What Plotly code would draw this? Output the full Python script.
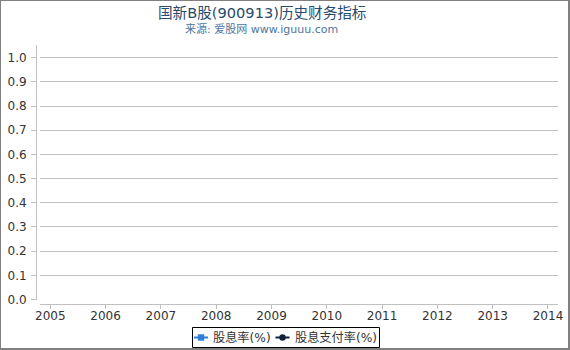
import plotly.graph_objects as go

years = [2005, 2006, 2007, 2008, 2009, 2010, 2011, 2012, 2013, 2014]
dividend_yield = [None] * len(years)      # 股息率(%)
payout_ratio = [None] * len(years)        # 股息支付率(%)
y_ticks = [0.0, 0.1, 0.2, 0.3, 0.4, 0.5, 0.6, 0.7, 0.8, 0.9, 1.0]
series_names = ["股息率(%)", "股息支付率(%)"]
series_colors = ["#2f7ed8", "#0d233a"]

W, H = 570, 350
ML, MR, MT, MB = 36, 12, 45, 46
PW = W - ML - MR
PH = H - MT - MB

FONT = "DejaVu Sans, Noto Sans CJK SC, sans-serif"


def px(x):
    return (x - ML) / PW


def py(y):
    return (H - MB - y) / PH


fig = go.Figure()
fig.add_trace(go.Scatter(x=years, y=dividend_yield, name=series_names[0], mode="lines+markers",
                         line=dict(color=series_colors[0], width=2),
                         marker=dict(symbol="square", size=7, color=series_colors[0]),
                         showlegend=False))
fig.add_trace(go.Scatter(x=years, y=payout_ratio, name=series_names[1], mode="lines+markers",
                         line=dict(color=series_colors[1], width=2),
                         marker=dict(symbol="circle", size=7, color=series_colors[1]),
                         showlegend=False))

shapes = []
annotations = [
    dict(text="国新B股(900913)历史财务指标", xref="paper", yref="paper",
         x=px(262), y=py(12.5), xanchor="center", yanchor="middle",
         showarrow=False, font=dict(size=14.6, color="#274b6d", family=FONT)),
    dict(text="来源: 爱股网 www.iguuu.com", xref="paper", yref="paper",
         x=px(261), y=py(29), xanchor="center", yanchor="middle",
         showarrow=False, font=dict(size=11, color="#4d759e", family=FONT)),
]

# custom legend
LY = 337.5
shapes.append(dict(type="rect", xref="paper", yref="paper",
                   x0=px(192.5), x1=px(379.5), y0=py(327.5), y1=py(347.5),
                   line=dict(color="black", width=1), fillcolor="white", layer="above"))
legend_items = [
    (194, 208, "square", 210.5),
    (275.5, 289.5, "circle", 293),
]
for (lx0, lx1, sym, tx), name, col in zip(legend_items, series_names, series_colors):
    shapes.append(dict(type="line", xref="paper", yref="paper",
                       x0=px(lx0), x1=px(lx1), y0=py(LY), y1=py(LY),
                       line=dict(color=col, width=2), layer="above"))
    cx = (lx0 + lx1) / 2
    r = 3.2
    shapes.append(dict(type="rect" if sym == "square" else "circle", xref="paper", yref="paper",
                       x0=px(cx - r), x1=px(cx + r), y0=py(LY + r), y1=py(LY - r),
                       line=dict(width=0), fillcolor=col, layer="above"))
    annotations.append(dict(text=name, xref="paper", yref="paper", x=px(tx), y=py(LY),
                            xanchor="left", yanchor="middle", showarrow=False,
                            font=dict(size=12.2, color="#333333", family=FONT)))

# chart border
shapes.append(dict(type="rect", xref="paper", yref="paper",
                   x0=px(0), x1=px(569), y0=py(349), y1=py(0),
                   line=dict(color="#808080", width=2), layer="above"))

fig.update_layout(
    width=W, height=H,
    margin=dict(l=ML, r=MR, t=MT, b=MB, autoexpand=False),
    paper_bgcolor="white", plot_bgcolor="white",
    font=dict(family=FONT, size=12, color="#333333"),
    showlegend=False,
    xaxis=dict(range=[2004.814, 2014.181], domain=[4 / PW, 1], tickmode="array", tickvals=years,
               ticktext=[str(y) for y in years], showgrid=False, zeroline=False,
               showline=True, linecolor="#c0c0c0", linewidth=1,
               ticks="outside", ticklen=4, tickcolor="#c0c0c0", ticklabelstandoff=-3,
               anchor="free", position=0, tickfont=dict(size=12, color="#333333")),
    yaxis=dict(range=[-0.002, 1.0525], domain=[4 / PH, 1], tickmode="array", tickvals=y_ticks,
               ticktext=[f"{v:.1f}" for v in y_ticks], showgrid=True, gridcolor="#c0c0c0",
               gridwidth=1, zeroline=False, showline=True, linecolor="#c0c0c0", linewidth=1,
               ticks="outside", ticklen=5, tickcolor="#c0c0c0", ticklabelstandoff=2,
               anchor="free", position=0, tickfont=dict(size=12, color="#333333")),
    annotations=annotations,
    shapes=shapes,
)

fig.write_html("out.html")
